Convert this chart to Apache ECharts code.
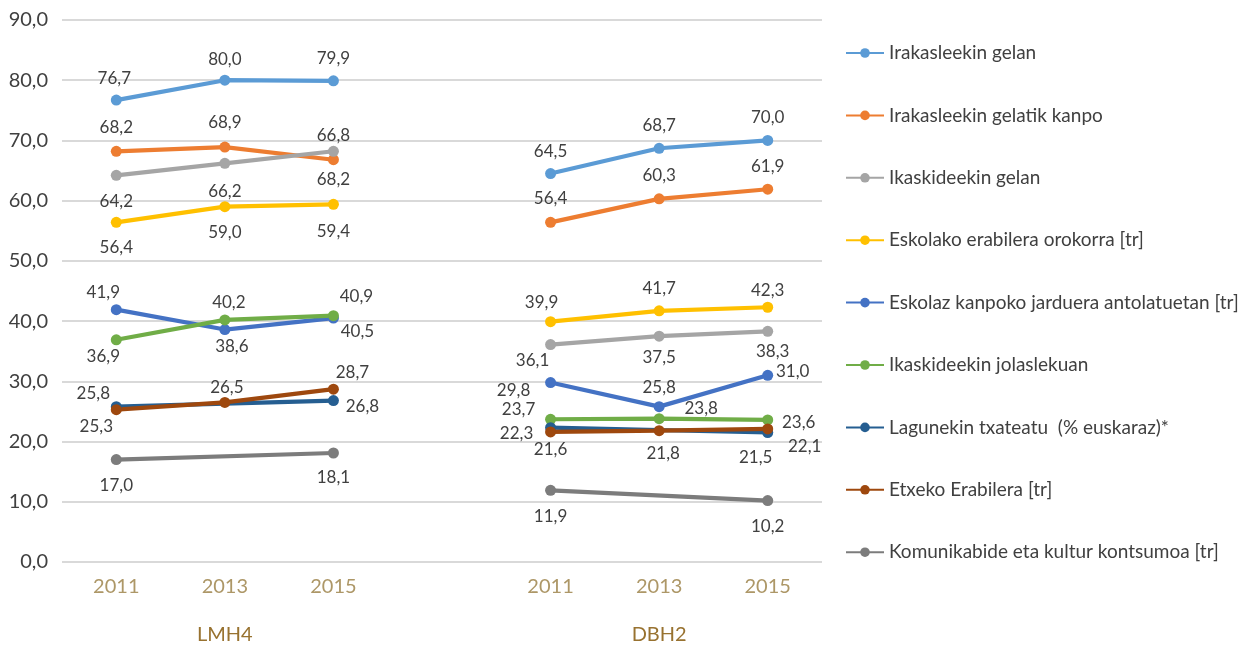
<!DOCTYPE html>
<html>
<head>
<meta charset="utf-8">
<script src="https://cdn.jsdelivr.net/npm/echarts@6/dist/echarts.min.js"></script>
<style>
  html, body { margin: 0; padding: 0; background: #fff; }
  #main { width: 1254px; height: 645px; }
</style>
</head>
<body>
<div id="main"></div>
<script>
var years = ['2011', '2013', '2015'];
var groups = ['LMH4', 'DBH2'];

var seriesNames = [
    'Irakasleekin gelan',
    'Irakasleekin gelatik kanpo',
    'Ikaskideekin gelan',
    'Eskolako erabilera orokorra [tr]',
    'Eskolaz kanpoko jarduera antolatuetan [tr]',
    'Ikaskideekin jolaslekuan',
    'Lagunekin txateatu  (% euskaraz)*',
    'Etxeko Erabilera [tr]',
    'Komunikabide eta kultur kontsumoa [tr]'
];

// LMH4 2011, 2013, 2015, DBH2 2011, 2013, 2015
var irakasleGelan   = [76.7, 80.0, 79.9, 64.5, 68.7, 70.0];
var irakasleKanpo   = [68.2, 68.9, 66.8, 56.4, 60.3, 61.9];
var ikaskideGelan   = [64.2, 66.2, 68.2, 36.1, 37.5, 38.3];
var eskolaOrokorra  = [56.4, 59.0, 59.4, 39.9, 41.7, 42.3];
var eskolazKanpo    = [41.9, 38.6, 40.5, 29.8, 25.8, 31.0];
var jolaslekuan     = [36.9, 40.2, 40.9, 23.7, 23.8, 23.6];
var txateatu        = [25.8, null, 26.8, 22.3, null, 21.5];
var etxeko          = [25.3, 26.5, 28.7, 21.6, 21.8, 22.1];
var komunikabide    = [17.0, null, 18.1, 11.9, null, 10.2];

var allValues = [irakasleGelan, irakasleKanpo, ikaskideGelan, eskolaOrokorra,
    eskolazKanpo, jolaslekuan, txateatu, etxeko, komunikabide];

var colors = ['#5B9BD5', '#ED7D31', '#A5A5A5', '#FFC000', '#4472C4',
    '#70AD47', '#255E91', '#9E480E', '#7C7C7C'];

// label offset from the point, px
var labelOffsets = [
    [[-2, -22], [0, -21], [0, -22], [0, -22], [0, -23], [0, -23]],
    [[0, -24], [0, -25], [0, -24], [0, -24], [0, -23], [0, -23]],
    [[0, 26], [0, 28], [0, 28], [-18, 16], [0, 21], [5, 20]],
    [[0, 25], [0, 26], [0, 27], [-9, -19], [0, -22], [0, -17]],
    [[-13, -17], [7, 17], [24, 13], [-37, 8], [0, -19], [25, -4]],
    [[-13, 17], [4, -17], [23, -19], [-32, -10], [42, -10], [31, 3]],
    [[-23, -13], [0, 0], [29, 6], [-34, 6], [0, 0], [-12, 25]],
    [[-20, 17], [2, -15], [19, -17], [0, 18], [4, 23], [37, 18]],
    [[0, 26], [0, 0], [0, 25], [0, 26], [0, 0], [0, 26]]
];

var categories = years.concat([''], years);
var groupAxis = ['', groups[0], '', '', '', groups[1], ''];

function fmt(v) {
    return v.toFixed(1).replace('.', ',');
}

var series = [];
seriesNames.forEach(function (name, i) {
    for (var g = 0; g < 2; g++) {
        var data = [null, null, null, null, null, null, null];
        for (var k = 0; k < 3; k++) {
            var v = allValues[i][g * 3 + k];
            if (v === null) continue;
            data[g * 4 + k] = {
                value: v,
                label: { offset: labelOffsets[i][g * 3 + k] }
            };
        }
        series.push({
            name: name,
            type: 'line',
            data: data,
            connectNulls: true,
            symbol: 'circle',
            symbolSize: 11,
            color: colors[i],
            lineStyle: { width: 4.2, color: colors[i] },
            itemStyle: { color: colors[i] },
            label: {
                show: true,
                position: 'inside',
                color: '#404040',
                fontSize: 17,
                fontFamily: 'Lato',
                formatter: function (p) { return fmt(p.value); }
            },
            emphasis: { disabled: true },
            animation: false
        });
    }
});

var myChart = echarts.init(document.getElementById('main'));
var option = {
    backgroundColor: '#fff',
    textStyle: { fontFamily: 'Lato' },
    grid: { left: 62, right: 432, top: 20, bottom: 81 },
    legend: {
        orient: 'vertical',
        left: 840,
        top: 38,
        itemWidth: 38,
        itemHeight: 12,
        itemGap: 42.4,
        selectedMode: false,
        data: seriesNames,
        textStyle: { fontSize: 19, color: '#404040', lineHeight: 20, fontFamily: 'Lato' }
    },
    xAxis: [{
        type: 'category',
        data: categories,
        axisLine: { show: false },
        axisTick: { show: false },
        axisLabel: { interval: 0, fontSize: 20, color: '#AD9767', margin: 15, fontFamily: 'Lato' }
    }, {
        type: 'category',
        data: groupAxis,
        position: 'bottom',
        offset: 52,
        axisLine: { show: false },
        axisTick: { show: false },
        axisLabel: { interval: 0, fontSize: 20, color: '#987230', margin: 11, fontFamily: 'Lato' }
    }],
    yAxis: {
        type: 'value',
        min: 0,
        max: 90,
        interval: 10,
        axisLine: { show: false },
        axisTick: { show: false },
        splitLine: { lineStyle: { color: '#D9D9D9', width: 2 } },
        axisLabel: {
            fontSize: 20,
            color: '#404040',
            margin: 14,
            fontFamily: 'Lato',
            formatter: function (v) { return fmt(v); }
        }
    },
    series: series
};
myChart.setOption(option);
</script>
</body>
</html>
